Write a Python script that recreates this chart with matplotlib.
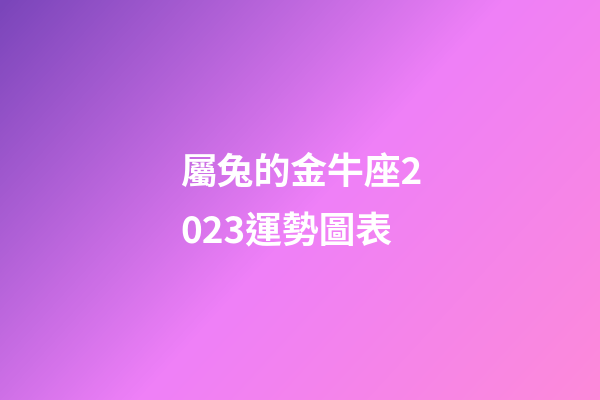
import numpy as np
import matplotlib.pyplot as plt
from matplotlib.colors import LinearSegmentedColormap

# Texto del título (dos líneas)
title_lines = ['屬兔的金牛座2', '023運勢圖表']

# Paradas del degradado diagonal
grad_stops = [0.0, 0.52, 1.0]
grad_colors = ['#7a45ba', '#ef80f8', '#fd8ad9']

W, H = 600, 400

fig = plt.figure(figsize=(6, 4), dpi=100)
ax = fig.add_axes([0, 0, 1, 1])
ax.set_axis_off()

# Fondo con degradado: la banda rosa va de (500,0) a (134,400)
xx, yy = np.meshgrid(np.arange(W), np.arange(H))
t = (xx + 0.915 * yy) / (W + 0.915 * H)
cmap = LinearSegmentedColormap.from_list('fondo', list(zip(grad_stops, grad_colors)))
ax.imshow(t, cmap=cmap, vmin=0, vmax=1, extent=[0, W, H, 0], aspect='auto',
          interpolation='bilinear')
ax.set_xlim(0, W)
ax.set_ylim(H, 0)

# Texto blanco en negrita
for i, line in enumerate(title_lines):
    ax.text(180, 173 + 60 * i, line, color='white', fontsize=26.5,
            fontweight='bold', va='center', ha='left',
            family=['Noto Sans CJK TC', 'DejaVu Sans'])

fig.savefig('out.png', dpi=100)
